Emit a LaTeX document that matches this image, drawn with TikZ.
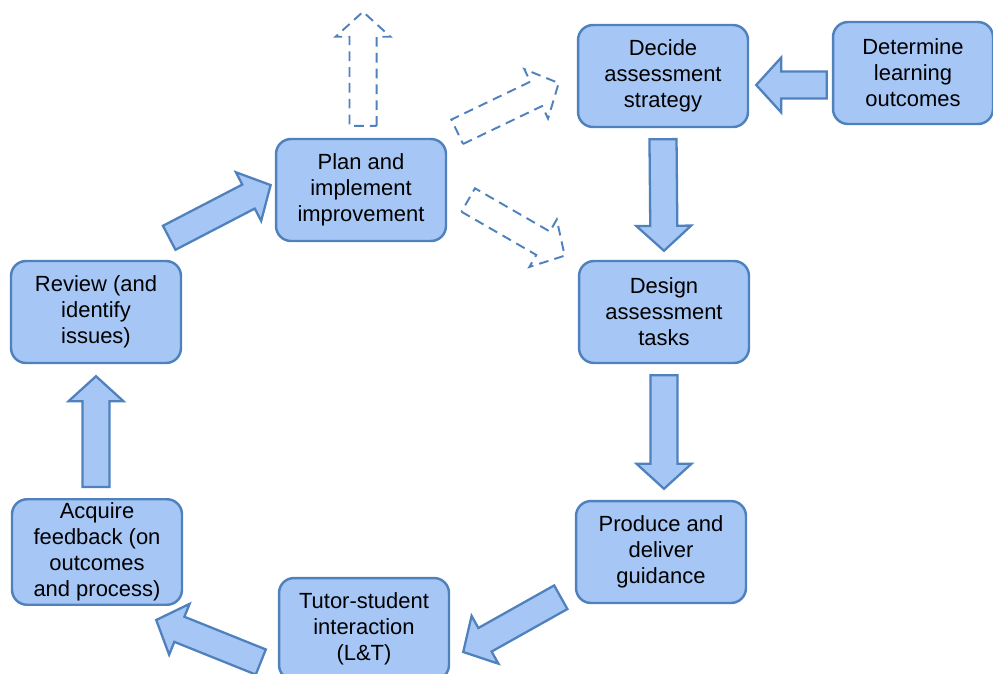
\documentclass[tikz,border=0pt]{standalone}
\usepackage{fontspec}
\setmainfont{Liberation Sans}
\usepackage{tikz}
\usetikzlibrary{calc}

\definecolor{boxblue}{RGB}{166,198,245}
\definecolor{edgeblue}{RGB}{79,129,189}

\tikzset{
	stage/.style={draw=edgeblue, fill=boxblue, line width=1.4pt, rounded corners=0.3cm,
		minimum width=3.4cm, minimum height=2.04cm, align=center, inner sep=2pt,
		font=\fontsize{12.5}{14.8}\selectfont},
	barrow/.style={draw=edgeblue, fill=boxblue, line width=1.3pt, line join=miter},
	ghost/.style={draw=edgeblue, line width=1.1pt, dash pattern=on 5.5pt off 3.5pt, line join=miter}
}

% fat arrow from #2 to #3 (shaft, then a triangular head)
\def\shw{7.7pt}
\def\hdw{15.6pt}
\def\hdl{14.2pt}
\newcommand{\blockarrow}[3][barrow]{%
	\draw[#1] let \p1=#2, \p2=#3,
		\n1={atan2(\y2-\y1,\x2-\x1)}, \n2={veclen(\x2-\x1,\y2-\y1)} in
		[shift={(\p1)}, rotate=\n1]
		(0pt,-\shw) -- ({\n2-\hdl},-\shw) -- ({\n2-\hdl},-\hdw) -- ({\n2+0pt},0pt)
		-- ({\n2-\hdl},\hdw) -- ({\n2-\hdl},\shw) -- (0pt,\shw) -- cycle;}

\begin{document}
\begin{tikzpicture}[x=0.02cm, y=-0.02cm]
		\useasboundingbox (0,0) rectangle (993,673);

		\node[stage] (dec) at (663,76) {Decide\\assessment\\strategy};
		\node[stage, minimum width=3.2cm] (det) at (913,73) {Determine\\learning\\outcomes};
		\node[stage] (des) at (664,312) {Design\\assessment\\tasks};
		\node[stage] (pro) at (661,552) {Produce and\\deliver\\guidance};
		\node[stage] (tut) at (364,629) {Tutor-student\\interaction\\(L\&T)};
		\node[stage] (acq) at (97,552) {Acquire\\feedback (on\\outcomes\\and process)};
		\node[stage] (rev) at (96,312) {Review (and\\identify\\issues)};
		\node[stage] (pla) at (361,190) {Plan and\\implement\\improvement};

		\coordinate (up) at ($(pla.north)+(2,-126)$);

		% the cycle
		\blockarrow{($(det.west)+(-5,12)$)}{($(dec.east)+(7,9)$)}
		\blockarrow{($(dec.south)+(0,11)$)}{($(des.north)+(0,-9)$)}
		\blockarrow{($(des.south)+(0,11)$)}{($(pro.north)+(3,-11)$)}
		\blockarrow{($(pro.south west)+(-14,-7)$)}{($(tut.east)+(13,23)$)}
		\blockarrow{($(tut.west)+(-17,33)$)}{($(acq.south east)+(-27,14)$)}
		\blockarrow{($(acq.north)+(-1,-11)$)}{($(rev.south)+(0,12)$)}
		\blockarrow{($(rev.north east)+(-13,-22)$)}{($(pla.west)+(-4,-5)$)}

		% improvement feeds back
		\blockarrow[ghost]{($(pla.north)+(2,-12)$)}{(up)}
		\blockarrow[ghost]{($(pla.north east)+(10,-6)$)}{($(dec.west)+(-18,7)$)}
		\blockarrow[ghost]{($(pla.east)+(21,10)$)}{($(des.north west)+(-13,-4)$)}
	\end{tikzpicture}
\end{document}
